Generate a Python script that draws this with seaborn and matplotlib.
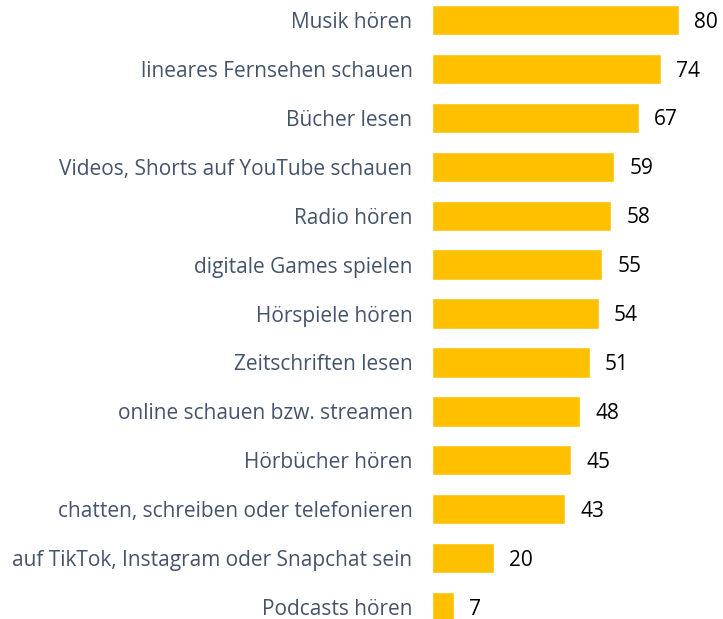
import pandas as pd
import matplotlib
matplotlib.use("Agg")
import matplotlib.pyplot as plt
import seaborn as sns

activities = [
    "Musik hören",
    "lineares Fernsehen schauen",
    "Bücher lesen",
    "Videos, Shorts auf YouTube schauen",
    "Radio hören",
    "digitale Games spielen",
    "Hörspiele hören",
    "Zeitschriften lesen",
    "online schauen bzw. streamen",
    "Hörbücher hören",
    "chatten, schreiben oder telefonieren",
    "auf TikTok, Instagram oder Snapchat sein",
    "Podcasts hören",
]
values = [80, 74, 67, 59, 58, 55, 54, 51, 48, 45, 43, 20, 7]

df = pd.DataFrame({"Aktivität": activities, "Wert": values})

sns.set_style("white")
plt.rcParams["font.family"] = ["Open Sans", "DejaVu Sans"]

fig = plt.figure(figsize=(7.23, 6.19), dpi=100)
ax = fig.add_axes([432 / 723, 0, 1 - 432 / 723, 1])

sns.barplot(data=df, x="Wert", y="Aktivität", color="#FFC000",
            saturation=1, width=0.62, ax=ax)

# values sit a little below the bar centre in the original
for bar, v in zip(ax.containers[0], values):
    ax.annotate(str(v), (bar.get_width(), bar.get_y() + bar.get_height() / 2),
                xytext=(11, -1.5), textcoords="offset points",
                va="center", ha="left", fontsize=15, color="black")

ax.set_xlim(0, 94.2)
ax.set_ylim(12.245, -0.409)
ax.set_xlabel("")
ax.set_ylabel("")
ax.set_xticks([])
ax.tick_params(axis="y", length=0, pad=14, labelsize=15, labelcolor="#44546A")
for s in ax.spines.values():
    s.set_visible(False)

fig.savefig("out.png", dpi=100)
